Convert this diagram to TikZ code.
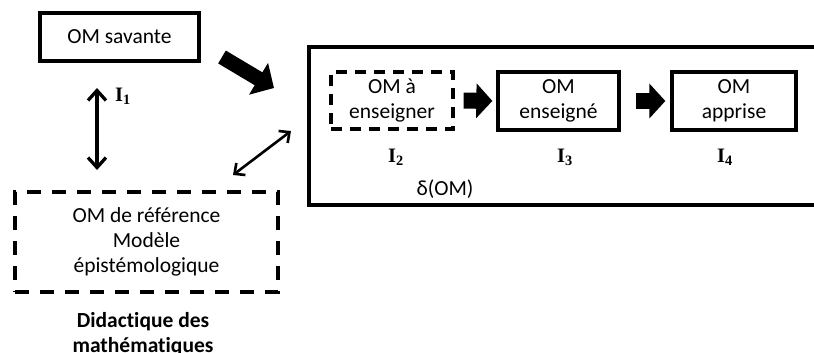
\documentclass[tikz,border=0pt]{standalone}
\usepackage{fontspec}
\setmainfont{Carlito}[Ligatures=NoCommon]
\newfontfamily\ilabfont{Liberation Serif}
\usetikzlibrary{arrows.meta}
\begin{document}
\begin{tikzpicture}[x=1pt,y=-1pt,
  every node/.style={font=\fontsize{21.5}{25}\selectfont},
  solidbox/.style={draw, line width=3.3pt, inner sep=0pt, align=center},
  dashbox/.style={draw, line width=3.3pt, inner sep=0pt, align=center, dash pattern=on 14pt off 11pt},
  blockarrow/.style={line width=16pt, -{Triangle[length=16pt,width=34pt]}},
  bigarrow/.style={line width=15pt, -{Triangle[length=18pt,width=36pt]}},
  dblarrow/.style={line width=3.3pt, {Straight Barb[length=10pt,width=18pt]}-{Straight Barb[length=10pt,width=18pt]}},
  thinarrow/.style={line width=2.6pt, {Straight Barb[length=8pt,width=15pt]}-{Straight Barb[length=8pt,width=15pt]}},
  ilab/.style={font=\fontsize{20.5}{24}\selectfont\ilabfont\bfseries, inner sep=0pt, anchor=base west},
  plain/.style={inner sep=0pt, anchor=base}
]
\clip (0,0) rectangle (814,353);

% boxes
\node[solidbox, minimum width=159pt, minimum height=48pt] (sav) at (119.5,37) {OM savante};
\node[dashbox, minimum width=263pt, minimum height=100pt] (ref) at (146.5,242) {OM de référence\\Modèle\\épistémologique};
\node[draw, line width=3.3pt, inner sep=0pt, minimum width=560pt, minimum height=158pt] (frame) at (589,126) {};
\node[dashbox, dash pattern=on 11pt off 8pt, minimum width=122pt, minimum height=57pt] (ens) at (392,100.5) {OM à\\enseigner};
\node[solidbox, minimum width=121pt, minimum height=58pt] (eng) at (558.5,101) {OM\\enseigné};
\node[solidbox, minimum width=124pt, minimum height=58pt] (app) at (734,101) {OM\\apprise};

% labels
\node[ilab] (i1) at (115,101) {I\textsubscript{1}};
\node[ilab] (i2) at (388,162) {I\textsubscript{2}};
\node[ilab] (i3) at (557,162) {I\textsubscript{3}};
\node[ilab] (i4) at (717,162) {I\textsubscript{4}};
\node[plain] (delta) at (445,195) {δ(OM)};
\node[plain, font=\fontsize{21.5}{25}\selectfont\bfseries] (did) at (143,327) {Didactique des};
\node[plain, font=\fontsize{21.5}{25}\selectfont\bfseries] (math) at (143,352) {mathématiques};

% connectors
\coordinate (v1) at (97,88);
\coordinate (v2) at (97,170);
\draw[dblarrow] (v1) -- (v2);

\coordinate (d1) at (222,57);
\coordinate (d2) at (274,88);
\draw[bigarrow] (d1) -- (d2);

\coordinate (t1) at (233,175);
\coordinate (t2) at (291,131);
\draw[thinarrow] (t1) -- (t2);

\draw[blockarrow, shorten <=9pt, shorten >=4pt] (ens.east) -- (eng.west);
\draw[blockarrow, shorten <=15pt, shorten >=5pt] (eng.east) -- (app.west);
\end{tikzpicture}
\end{document}
